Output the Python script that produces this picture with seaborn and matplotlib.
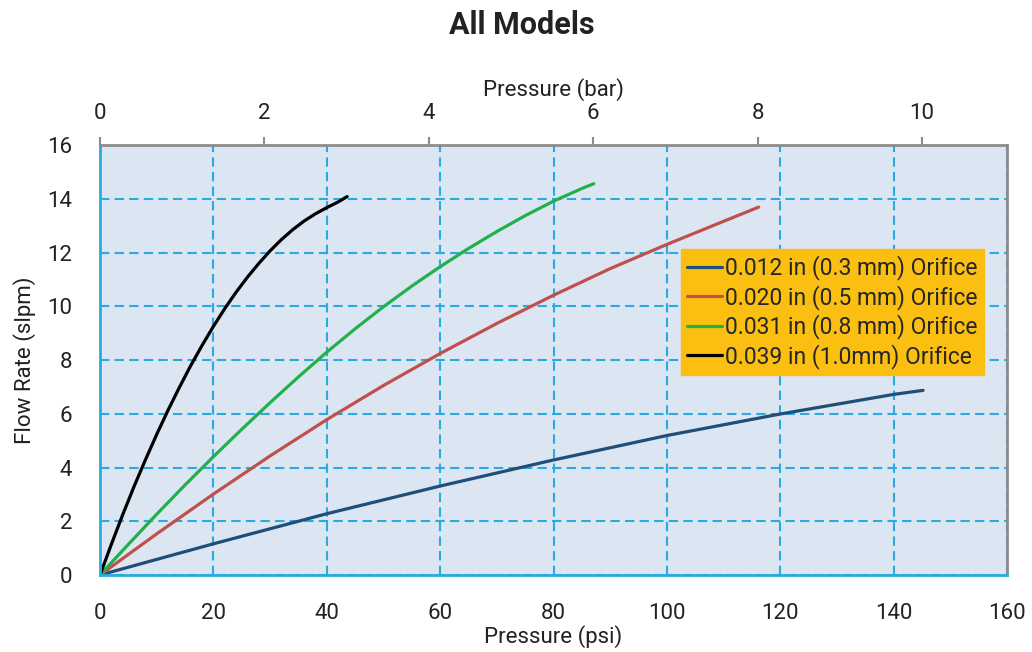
import numpy as np
import pandas as pd
import matplotlib
matplotlib.use("Agg")
import matplotlib.pyplot as plt
import seaborn as sns

# Values (pressure in psi, flow in slpm)
labels = [
    "0.012 in (0.3 mm) Orifice",
    "0.020 in (0.5 mm) Orifice",
    "0.031 in (0.8 mm) Orifice",
    "0.039 in (1.0mm) Orifice",
]
colors = ["#1F4E79", "#C0504D", "#22B04B", "#000000"]

psi_012 = [0, 20, 40, 60, 80, 100, 120, 140, 145.2]
flow_012 = [0, 1.16, 2.28, 3.31, 4.28, 5.19, 5.99, 6.72, 6.87]

psi_020 = [0, 10, 20, 30, 40, 50, 60, 70, 80, 90, 100, 110, 116.2]
flow_020 = [0, 1.53, 3.01, 4.43, 5.78, 7.05, 8.24, 9.36, 10.41, 11.40, 12.30, 13.16, 13.69]

psi_031 = [0, 5, 10, 15, 20, 25, 30, 35, 40, 45, 50, 55, 60, 65, 70, 75, 80, 85, 87.1]
flow_031 = [0, 1.14, 2.26, 3.35, 4.40, 5.42, 6.41, 7.37, 8.29, 9.16, 9.98, 10.75,
            11.47, 12.15, 12.78, 13.37, 13.91, 14.38, 14.56]

psi_039 = [0, 2, 4, 6, 8, 10, 12, 14, 16, 18, 20, 22, 24, 26, 28, 30, 32, 34, 36,
           38, 40, 42, 43.6]
flow_039 = [0, 1.14, 2.24, 3.29, 4.28, 5.23, 6.13, 6.98, 7.79, 8.54, 9.25, 9.91,
            10.52, 11.08, 11.59, 12.06, 12.48, 12.85, 13.17, 13.44, 13.67, 13.88, 14.08]

x_ticks = [0, 20, 40, 60, 80, 100, 120, 140, 160]
y_ticks = [0, 2, 4, 6, 8, 10, 12, 14, 16]
bar_ticks = [0, 2, 4, 6, 8, 10]

frames = []
for lab, x, y in zip(labels, [psi_012, psi_020, psi_031, psi_039],
                     [flow_012, flow_020, flow_031, flow_039]):
    frames.append(pd.DataFrame({"psi": x, "flow": y, "orifice": lab}))
df = pd.concat(frames, ignore_index=True)

sns.set_style("white")
plt.rcParams["font.family"] = ["Roboto", "DejaVu Sans"]

grid_c = "#29ABE2"
text_c = "#222222"
fig = plt.figure(figsize=(10.32, 6.52), dpi=100)
ax = fig.add_axes([100 / 1032, 1 - 575 / 652, 907 / 1032, 430 / 652])
ax.set_facecolor("#DCE6F2")

sns.lineplot(data=df, x="psi", y="flow", hue="orifice", hue_order=labels,
             palette=colors, sort=False, linewidth=2.3, estimator=None, ax=ax)

ax.set_xlim(0, 160)
ax.set_ylim(0, 16)
ax.set_xticks(x_ticks)
ax.set_yticks(y_ticks)
ax.grid(True, color=grid_c, linestyle=(0, (4.5, 2.5)), linewidth=1.5)
ax.set_axisbelow(True)
ax.tick_params(axis="x", length=0, labelsize=16, colors=text_c, pad=20)
ax.tick_params(axis="y", length=0, labelsize=16, colors=text_c, pad=20)

for side in ["left", "bottom"]:
    ax.spines[side].set_color(grid_c)
    ax.spines[side].set_linewidth(2)
for side in ["top", "right"]:
    ax.spines[side].set_color("#8C8C8C")
    ax.spines[side].set_linewidth(2)

ax.set_xlabel("Pressure (psi)", fontsize=16, labelpad=1, color=text_c)
ax.set_ylabel("Flow Rate (slpm)", fontsize=16, labelpad=8, color=text_c)

# secondary axis in bar
secax = ax.secondary_xaxis("top", functions=(lambda p: p / 14.5038, lambda b: b * 14.5038))
secax.set_xticks(bar_ticks)
secax.tick_params(axis="x", length=6, width=1.5, colors="#8C8C8C", labelcolor=text_c,
                  labelsize=16, pad=9)
secax.spines["top"].set_visible(False)
secax.set_xlabel("Pressure (bar)", fontsize=16, labelpad=5, color=text_c)

leg = ax.legend(loc="upper left", bbox_to_anchor=((681 - 100) / 907, (575 - 249) / 430),
                fontsize=16.5, frameon=True, fancybox=False, facecolor="#FBBF12",
                edgecolor="#FBBF12", framealpha=1, handlelength=1.5, handletextpad=0.15,
                labelspacing=0.2, borderpad=0.28, borderaxespad=0)
for line in leg.get_lines():
    line.set_linewidth(2.3)

fig.text(522 / 1032, 1 - 25 / 652, "All Models", ha="center", va="center",
         fontsize=22, fontweight="bold", color=text_c)

fig.savefig("out.png", dpi=100)
